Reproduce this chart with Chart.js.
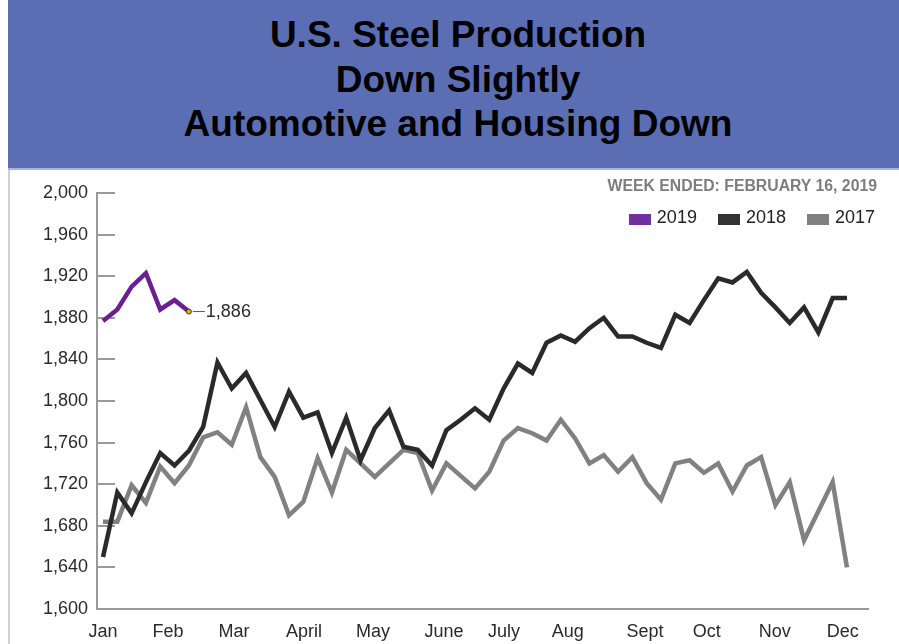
<!DOCTYPE html>
<html>
<head>
<meta charset="utf-8">
<script src="https://cdn.jsdelivr.net/npm/chart.js@4.4.1/dist/chart.umd.min.js"></script>
<style>
  body { margin:0; width:899px; height:644px; overflow:hidden; background:#fff; position:relative;
         font-family:"Liberation Sans", Arial, sans-serif; }
  #banner { position:absolute; left:8px; top:0; width:900px; height:170px; box-sizing:border-box;
            padding-top:13px; background:#5b6eb4; border-bottom:2px solid #aab3da;
            text-align:center; font-weight:bold; font-size:37px; line-height:44.5px; color:#000; }
  #panel { position:absolute; left:8px; top:170px; width:891px; height:474px; box-sizing:border-box;
           border-left:2px solid #d0d0d0; }
  #wrap { position:absolute; left:10px; top:170px; width:889px; height:474px; }
  #note { position:absolute; right:22px; top:177px; font-size:15.8px; font-weight:bold; color:#7d7d7d; }
  #legend { position:absolute; right:24px; top:207px; display:flex; align-items:center; font-size:18px; color:#222; }
  #legend span.box { display:inline-block; width:22px; height:11px; margin-right:6px; margin-top:4px; }
  #legend span.item { display:flex; align-items:center; margin-left:21px; }
</style>
</head>
<body>
<div id="banner">U.S. Steel Production<br>Down Slightly<br>Automotive and Housing Down</div>
<div id="panel"></div>
<div id="wrap"><canvas id="myChart" width="889" height="474"></canvas></div>
<div id="note">WEEK ENDED: FEBRUARY 16, 2019</div>
<div id="legend"></div>
<script>
// weekly raw steel production (thousands of net tons)
const series2019 = [1877, 1888, 1910, 1923, 1888, 1897, 1886];
const series2018 = [1650, 1712, 1692, 1722, 1750, 1738, 1752, 1775, 1837, 1812,
                    1827, 1801, 1775, 1809, 1784, 1789, 1750, 1784, 1743, 1774,
                    1791, 1756, 1753, 1738, 1772, 1782, 1793, 1782, 1812, 1836,
                    1827, 1856, 1863, 1857, 1870, 1880, 1862, 1862, 1856, 1851,
                    1883, 1875, 1897, 1918, 1914, 1924, 1904, 1890, 1875, 1890,
                    1866, 1899, 1899];
const series2017 = [1684, 1684, 1719, 1702, 1737, 1721, 1738, 1765, 1770, 1758,
                    1794, 1746, 1727, 1690, 1703, 1745, 1712, 1753, 1740, 1727,
                    1740, 1753, 1750, 1714, 1740, 1728, 1716, 1732, 1762, 1774,
                    1769, 1762, 1782, 1764, 1740, 1748, 1732, 1746, 1721, 1705,
                    1740, 1743, 1731, 1740, 1713, 1738, 1746, 1700, 1722, 1666,
                    1694, 1722, 1640];

const monthLabels = ['Jan', 'Feb', 'Mar', 'April', 'May', 'June', 'July', 'Aug', 'Sept', 'Oct', 'Nov', 'Dec'];
const monthPos = [0, 4.54, 9.15, 14.05, 18.87, 23.83, 28.02, 32.49, 37.88, 42.2, 46.95, 51.71];

const seriesNames = ['2019', '2018', '2017'];
const seriesColors = ['#6a1f93', '#2a2a2a', '#818181'];
const legendColors = ['#7030a0', '#333333', '#808080'];

function toPoints(arr) {
    return arr.map((v, i) => ({ x: i, y: v }));
}

// html legend
const legendEl = document.getElementById('legend');
seriesNames.forEach((name, i) => {
    const item = document.createElement('span');
    item.className = 'item';
    item.innerHTML = '<span class="box" style="background:' + legendColors[i] + '"></span>' + name;
    legendEl.appendChild(item);
});

// tick marks drawn inward from the y axis
const innerTicks = {
    id: 'innerTicks',
    beforeDatasetsDraw(chart) {
        const ctx = chart.ctx;
        const y = chart.scales.y;
        const left = chart.chartArea.left;
        ctx.save();
        ctx.strokeStyle = '#9a9a9a';
        ctx.lineWidth = 2;
        y.ticks.forEach(t => {
            const py = Math.round(y.getPixelForValue(t.value));
            ctx.beginPath();
            ctx.moveTo(left, py);
            ctx.lineTo(left + 18, py);
            ctx.stroke();
        });
        ctx.restore();
    }
};

// latest value callout
const lastLabel = {
    id: 'lastLabel',
    afterDatasetsDraw(chart) {
        const meta = chart.getDatasetMeta(0);
        const pt = meta.data[meta.data.length - 1];
        const val = series2019[series2019.length - 1];
        const ctx = chart.ctx;
        ctx.save();
        ctx.strokeStyle = '#555';
        ctx.lineWidth = 1;
        ctx.beginPath();
        ctx.moveTo(pt.x + 4, pt.y);
        ctx.lineTo(pt.x + 16, pt.y);
        ctx.stroke();
        ctx.fillStyle = '#2a2a2a';
        ctx.font = '18px "Liberation Sans", Arial, sans-serif';
        ctx.textBaseline = 'middle';
        ctx.fillText(val.toLocaleString('en-US'), pt.x + 17, pt.y);
        ctx.restore();
    }
};

Chart.defaults.font.family = '"Liberation Sans", Arial, sans-serif';
Chart.defaults.font.size = 18;
Chart.defaults.color = '#2a2a2a';

const ctx = document.querySelector('#myChart').getContext('2d');
const myChart = new Chart(ctx, {
    type: 'line',
    data: {
        datasets: [{
            label: seriesNames[0],
            data: toPoints(series2019),
            borderColor: seriesColors[0],
            borderWidth: 4.5,
            pointRadius: series2019.map((v, i) => i === series2019.length - 1 ? 2.5 : 0),
            pointBackgroundColor: '#e8b400',
            pointBorderColor: '#333',
            pointBorderWidth: 1
        }, {
            label: seriesNames[1],
            data: toPoints(series2018),
            borderColor: seriesColors[1],
            borderWidth: 4.5,
            pointRadius: 0
        }, {
            label: seriesNames[2],
            data: toPoints(series2017),
            borderColor: seriesColors[2],
            borderWidth: 4.5,
            pointRadius: 0
        }]
    },
    options: {
        responsive: false,
        animation: false,
        layout: { padding: { top: 23, right: 31, left: 0, bottom: 0 } },
        plugins: {
            legend: { display: false },
            tooltip: { enabled: false }
        },
        scales: {
            x: {
                type: 'linear',
                min: -0.42,
                max: 53.47,
                afterBuildTicks: scale => {
                    scale.ticks = monthPos.map(v => ({ value: v }));
                },
                afterFit: scale => { scale.height = 35; },
                ticks: {
                    autoSkip: false,
                    maxRotation: 0,
                    padding: 12,
                    callback: (v, i) => monthLabels[i]
                },
                grid: { display: false, drawTicks: false },
                border: { display: true, color: '#9a9a9a', width: 2 }
            },
            y: {
                min: 1600,
                max: 2000,
                afterFit: scale => { scale.width = 87; },
                ticks: {
                    stepSize: 40,
                    padding: 9,
                    callback: v => v.toLocaleString('en-US')
                },
                grid: { display: false, drawTicks: false },
                border: { display: true, color: '#9a9a9a', width: 2 }
            }
        }
    },
    plugins: [innerTicks, lastLabel]
});
</script>
</body>
</html>
